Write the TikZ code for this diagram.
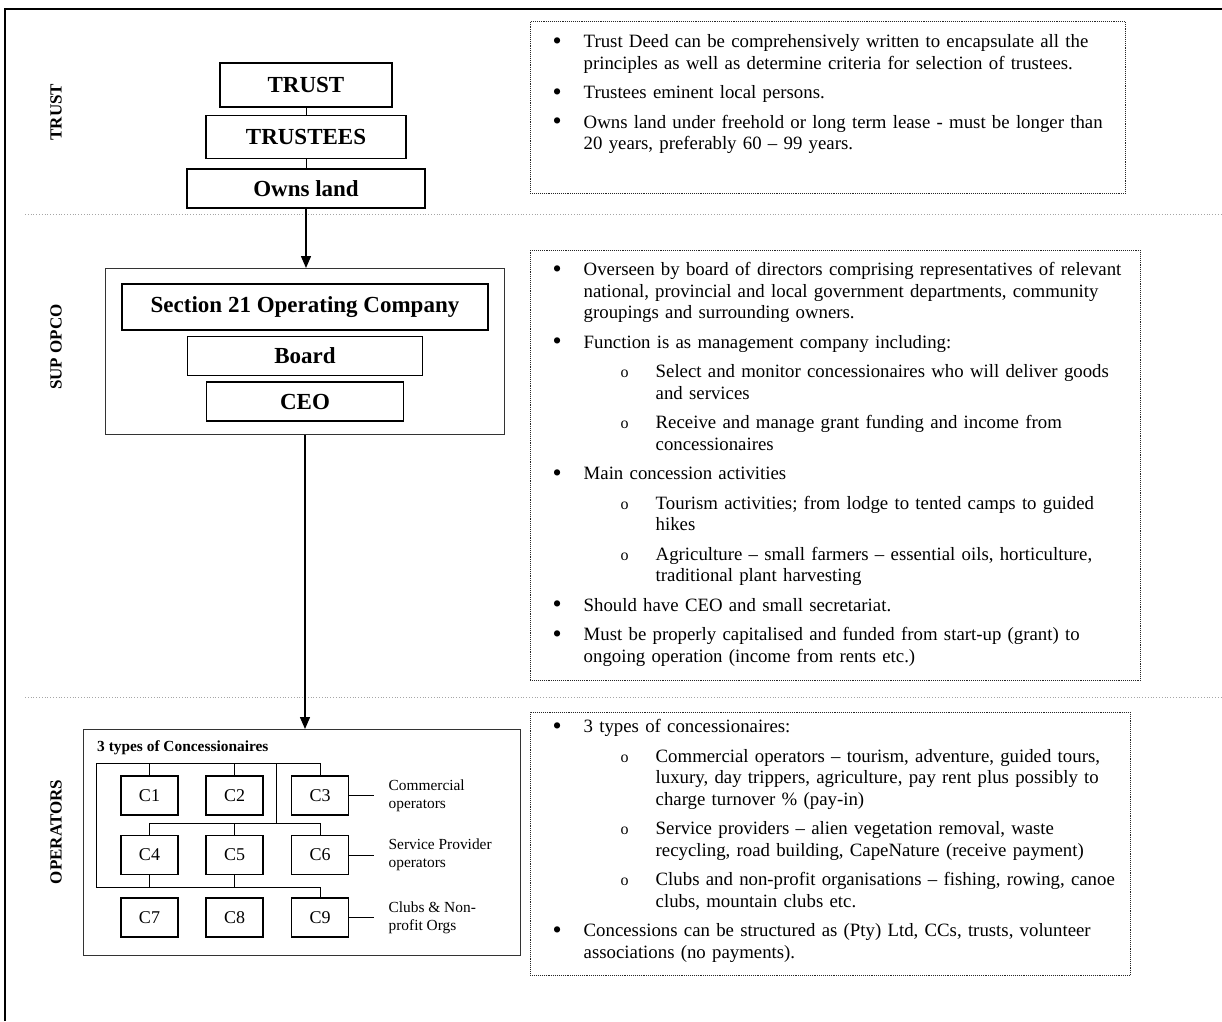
\documentclass[tikz,border=0pt]{standalone}
\usepackage{fontspec}
\setmainfont{Liberation Serif}
\usetikzlibrary{arrows.meta,positioning}

\newcommand{\bitem}[1]{\par{\let\\\newline\hangindent=38pt\hangafter=1\noindent\makebox[38pt][l]{\hspace{7pt}\raisebox{-1.5pt}{\fontsize{26}{20}\selectfont\textbullet}}#1\par}}
\newcommand{\sitem}[1]{\par{\let\\\newline\hangindent=110pt\hangafter=1\noindent\makebox[110pt][l]{\hspace{75pt}{\fontsize{16}{16}\selectfont o}}#1\par}}

\begin{document}
\begin{tikzpicture}[
    x=1pt, y=-1pt,
    orgbox/.style={rectangle, draw, line width=1.5pt, inner sep=0pt, font=\fontsize{23}{25}\selectfont\bfseries},
    cbox/.style={rectangle, draw, line width=1.8pt, inner sep=0pt, minimum width=57pt, minimum height=39pt, font=\fontsize{18}{20}\selectfont},
    notebox/.style={rectangle, draw=black!85, densely dotted, line width=0.9pt, inner sep=0pt},
    notetext/.style={inner sep=0pt, text width=600pt, font=\fontsize{18.8}{21.5}\selectfont, execute at begin node={\setlength{\parskip}{8pt}\raggedright}},
    framebox/.style={rectangle, draw=black!80, line width=1pt, inner sep=0pt},
    bandlbl/.style={rotate=90, inner sep=0pt, font=\fontsize{17}{17}\selectfont\bfseries},
    sidelbl/.style={inner sep=0pt, align=left, font=\fontsize{15.4}{18}\selectfont},
    arr/.style={-{Triangle[length=12pt,width=10pt]}, line width=1.4pt},
    link/.style={line width=1pt},
    tree/.style={line width=0.9pt},
    sepline/.style={draw=black!35, dotted, line width=0.8pt}
]
\useasboundingbox (0,0) rectangle (1222,1021);

% page frame and band separators
\draw[line width=2.2pt] (5,1021) |- (1222,9);
\draw[sepline] (25,214) -- (1222,214);
\draw[sepline] (25,697) -- (1222,697);

% band labels
\node[bandlbl] (lbltrust) at (56,112) {TRUST};
\node[bandlbl] (lblsup) at (56,347) {SUP OPCO};
\node[bandlbl] (lblops) at (56,832) {OPERATORS};

% trust
\node[orgbox, minimum width=172, minimum height=44] (trust) at (306,85) {TRUST};
\node[orgbox, minimum width=200, minimum height=43, below=7pt of trust] (trustees) {TRUSTEES};
\node[orgbox, minimum width=238, minimum height=39, below=9pt of trustees] (land) {Owns land};
\draw[link] (trust) -- (trustees);
\draw[link] (trustees) -- (land);

% sup opco
\node[framebox, minimum width=399, minimum height=166, anchor=north west] (supbox) at (105,268) {};
\node[orgbox, minimum width=366, minimum height=46] (sec21) at (305,307) {Section 21 Operating Company};
\node[orgbox, minimum width=235, minimum height=39, below=5pt of sec21] (board) {Board};
\node[orgbox, minimum width=197, minimum height=39, below=5pt of board] (ceo) {CEO};

% operators
\node[framebox, minimum width=437, minimum height=226, anchor=north west] (opbox) at (83,729) {};
\node[inner sep=0pt, anchor=west, font=\fontsize{15.4}{17}\selectfont\bfseries] (optitle) at (97,748) {3 types of Concessionaires};
\foreach \i/\x/\y in {1/149.5/795.5, 2/234.5/795.5, 3/320/795.5,
                      4/149.5/855, 5/234.5/855, 6/320/855,
                      7/149.5/917.5, 8/234.5/917.5, 9/320/917.5} {
  \node[cbox] (c\i) at (\x,\y) {C\i};
}
\coordinate (bus1) at (96,763);
\coordinate (bus2) at (276,823);
\coordinate (bus3) at (96,887);
\draw[tree] (bus3) -- (bus1) -| (c3.north);
\foreach \c in {c1,c2} {
  \draw[tree] (\c.north) -- (\c.north |- bus1);
}
\draw[tree] (bus2 |- bus1) -- (bus2);
\draw[tree] (c4.north) -- (c4.north |- bus2) -| (c6.north);
\draw[tree] (c5.north) -- (c5.north |- bus2);
\foreach \c in {c4,c5} {
  \draw[tree] (\c.south) -- (\c.south |- bus3);
}
\draw[tree] (bus3) -| (c9.north);

\node[sidelbl, right=39pt of c3] (lblcom) {Commercial\\operators};
\node[sidelbl, right=39pt of c6] (lblsvc) {Service Provider\\operators};
\node[sidelbl, right=39pt of c9] (lblclub) {Clubs \& Non-\\profit Orgs};
\foreach \a/\b in {c3/lblcom, c6/lblsvc, c9/lblclub} {
  \draw[tree, shorten >=14pt] (\a.east) -- (\a.east -| \b.west);
}

% flow between bands
\draw[arr] (land.south) -- (land.south |- supbox.north);
\draw[arr] (supbox.south) -- (supbox.south |- opbox.north);

% notes
\node[notebox, minimum width=595, minimum height=172, anchor=north west] (trustnote) at (530,21) {};
\node[notetext, anchor=north west] (trusttxt) at ([xshift=15.5pt, yshift=3pt]trustnote.north west) {%
\bitem{Trust Deed can be comprehensively written to encapsulate all the\\principles as well as determine criteria for selection of trustees.}
\bitem{Trustees eminent local persons.}
\bitem{Owns land under freehold or long term lease - must be longer than\\20 years, preferably 60 -- 99 years.}};

\node[notebox, minimum width=610, minimum height=430, anchor=north west] (supnote) at (530,250) {};
\node[notetext, anchor=north west] (suptxt) at ([xshift=15.5pt, yshift=4pt]supnote.north west) {%
\bitem{Overseen by board of directors comprising representatives of relevant\\national, provincial and local government departments, community\\groupings and surrounding owners.}
\bitem{Function is as management company including:}
\sitem{Select and monitor concessionaires who will deliver goods\\and services}
\sitem{Receive and manage grant funding and income from\\concessionaires}
\bitem{Main concession activities}
\sitem{Tourism activities; from lodge to tented camps to guided\\hikes}
\sitem{Agriculture -- small farmers -- essential oils, horticulture,\\traditional plant harvesting}
\bitem{Should have CEO and small secretariat.}
\bitem{Must be properly capitalised and funded from start-up (grant) to\\ongoing operation (income from rents etc.)}};

\node[notebox, minimum width=600, minimum height=263, anchor=north west] (opsnote) at (530,712) {};
\node[notetext, anchor=north west] (opstxt) at ([xshift=15.5pt, yshift=9pt]opsnote.north west) {%
\bitem{3 types of concessionaires:}
\sitem{Commercial operators -- tourism, adventure, guided tours,\\luxury, day trippers, agriculture, pay rent plus possibly to\\charge turnover \% (pay-in)}
\sitem{Service providers -- alien vegetation removal, waste\\recycling, road building, CapeNature (receive payment)}
\sitem{Clubs and non-profit organisations -- fishing, rowing, canoe\\clubs, mountain clubs etc.}
\bitem{Concessions can be structured as (Pty) Ltd, CCs, trusts, volunteer\\associations (no payments).}};
\end{tikzpicture}
\end{document}
